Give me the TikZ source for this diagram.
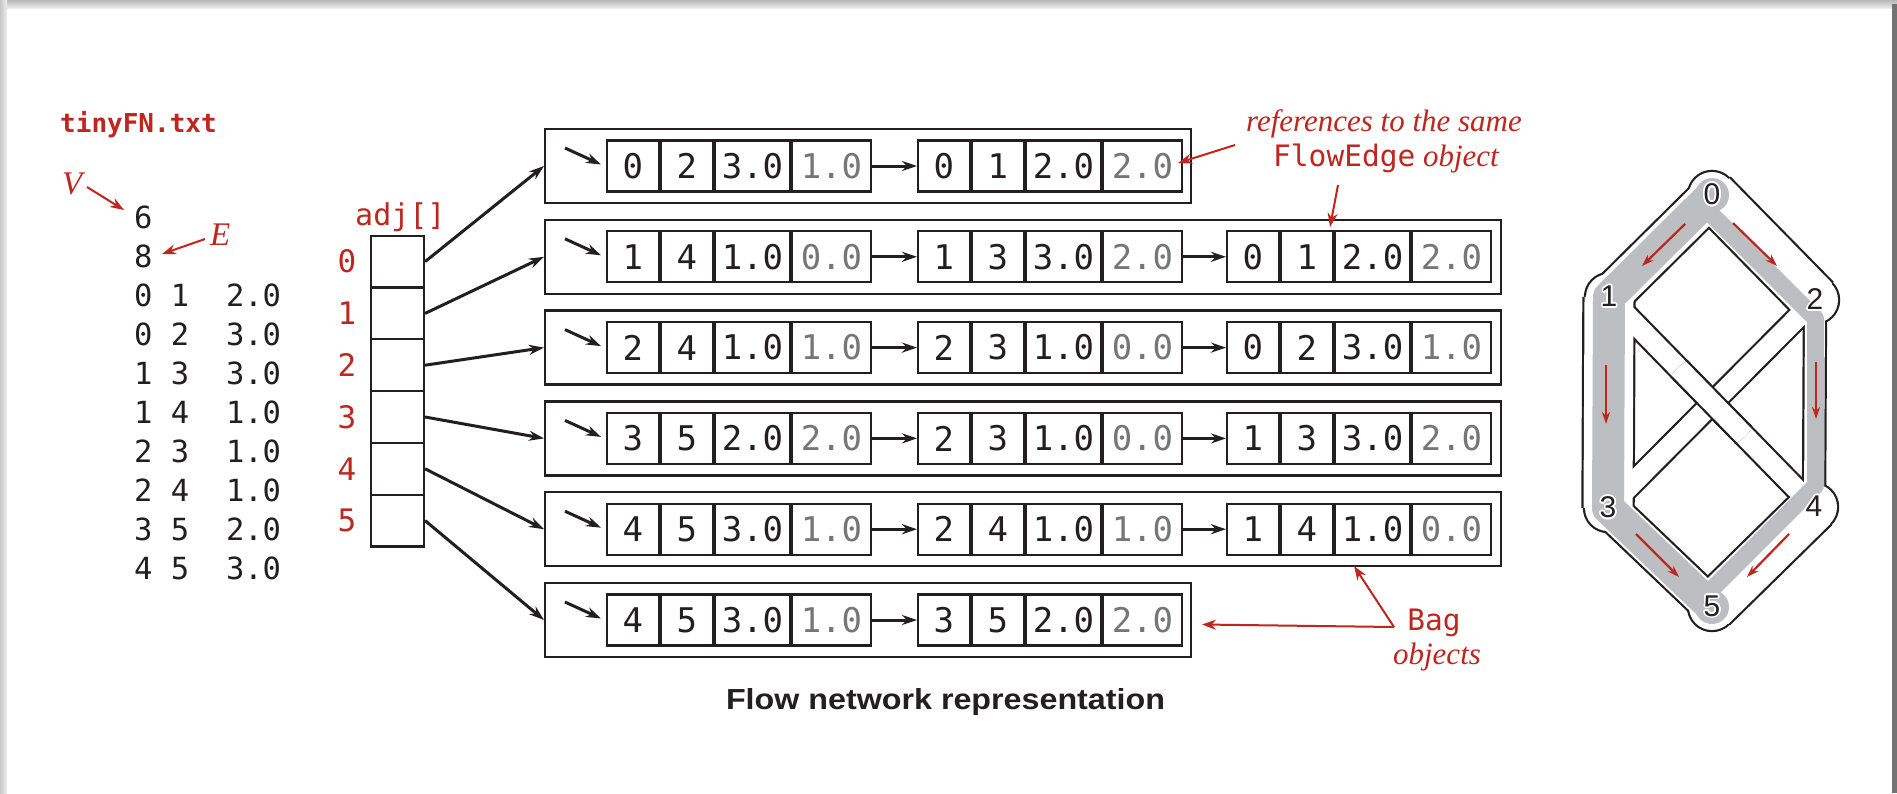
\documentclass[tikz,border=0pt]{standalone}
\usepackage{fontspec}
\usepackage{graphicx}
\setmainfont{Liberation Serif}
\setsansfont{Liberation Sans}
\setmonofont{DejaVu Sans Mono}
\usepackage[copies]{contour}
\contourlength{1.6pt}
\contournumber{16}
\usetikzlibrary{arrows.meta}
\definecolor{rd}{RGB}{190,38,30}
\definecolor{ink}{RGB}{35,31,32}
\definecolor{gtxt}{RGB}{118,118,120}
\definecolor{flowgray}{RGB}{189,190,194}
\newcommand{\fsz}[1]{\fontsize{#1}{#1}\selectfont}
\newcommand{\fedge}[7]{%
  \node[cwa] (#1a) at (#2,#3) {#4};
  \node[cwb] (#1b) at (#1a.east) {#5};
  \node[cwc] (#1c) at (#1b.east) {#6};
  \node[cwd] (#1d) at (#1c.east) {#7};
}
\tikzset{
  cellbase/.style={draw=ink, line width=2.2, minimum height=51, inner sep=0, anchor=west,
    font=\ttfamily\fsz{34}, text=ink},
  cwa/.style={cellbase, minimum width=51.5},
  cwb/.style={cellbase, minimum width=52},
  cwc/.style={cellbase, minimum width=75},
  cwd/.style={cellbase, minimum width=78.5, text=gtxt},
  bagbox/.style={draw=ink, line width=2.4, minimum height=74, inner sep=0, anchor=west},
  acell/.style={draw=ink, line width=2.2, minimum width=53, minimum height=51.8, inner sep=0},
  ptr/.style={draw=ink, line width=3, -{Stealth[length=15pt,width=10pt]}},
  rarr/.style={draw=rd, line width=2, -{Stealth[length=14pt,width=10pt]}},
  garr/.style={draw=rd, line width=2.2, -{Stealth[length=12pt,width=8pt]}},
  lst/.style={font=\ttfamily\fsz{30.5}, text=ink, anchor=base west, inner sep=0},
  redmono/.style={font=\ttfamily\fsz{30}, text=rd, inner sep=0},
  itred/.style={font=\itshape\fsz{31}, text=rd, inner sep=0},
  glab/.style={font=\sffamily\fsz{30}, text=ink, inner sep=0},
}
\begin{document}
\begin{tikzpicture}[x=1pt,y=-1pt]
\useasboundingbox (0,0) rectangle (1897,793);
% page and shadow
\fill[white] (0,0) rectangle (1897,793);
\shade[top color=black!28, bottom color=black!8] (0,0) rectangle (1897,8);
\shade[left color=black!22, right color=black!6] (0,0) rectangle (7,793);
\fill[black!55] (1892,4) rectangle (1897,793);

% ---------- tinyFN.txt ----------
\node[font=\ttfamily\bfseries\fsz{26}, text=rd, anchor=base west, inner sep=0] (file) at (60,132) {tinyFN.txt};
\node[font=\itshape\fsz{33}, text=rd, anchor=base west, inner sep=0] (V) at (62,194) {V};
\node[font=\itshape\fsz{33}, text=rd, anchor=base west, inner sep=0] (E) at (210,245) {E};
\foreach \t [count=\i from 0] in {6,8,0 1~~2.0,0 2~~3.0,1 3~~3.0,1 4~~1.0,2 3~~1.0,2 4~~1.0,3 5~~2.0,4 5~~3.0}
  \node[lst] (l\i) at (134,{228.3+39*\i}) {\t};
\coordinate (vs) at (87,187);
\coordinate (vt) at (124,210);
\coordinate (es) at (205,239);
\coordinate (et) at (162,254);
\draw[rarr] (vs) -- (vt);
\draw[rarr] (es) -- (et);

% ---------- adj[] ----------
\node[redmono, anchor=base west] (adj) at (355,225) {adj[]};
\foreach \i in {0,...,5} {
  \node[acell] (a\i) at (397.5,{261.6+51.8*\i}) {};
  \node[redmono, font=\ttfamily\fsz{31}] (ix\i) at (347,{261.6+51.8*\i}) {\i};
}

% ---------- bags ----------
\node[bagbox, minimum width=646] (bag0) at (544,166) {};
\node[bagbox, minimum width=956] (bag1) at (544,256.8) {};
\node[bagbox, minimum width=956] (bag2) at (544,347.6) {};
\node[bagbox, minimum width=956] (bag3) at (544,438.4) {};
\node[bagbox, minimum width=956] (bag4) at (544,529.2) {};
\node[bagbox, minimum width=646] (bag5) at (544,620) {};

\fedge{e01}{606}{166}{0}{2}{3.0}{1.0}
\fedge{e02}{917}{166}{0}{1}{2.0}{2.0}

\fedge{e11}{606}{256.8}{1}{4}{1.0}{0.0}
\fedge{e12}{917}{256.8}{1}{3}{3.0}{2.0}
\fedge{e13}{1226}{256.8}{0}{1}{2.0}{2.0}

\fedge{e21}{606}{347.6}{2}{4}{1.0}{1.0}
\fedge{e22}{917}{347.6}{2}{3}{1.0}{0.0}
\fedge{e23}{1226}{347.6}{0}{2}{3.0}{1.0}

\fedge{e31}{606}{438.4}{3}{5}{2.0}{2.0}
\fedge{e32}{917}{438.4}{2}{3}{1.0}{0.0}
\fedge{e33}{1226}{438.4}{1}{3}{3.0}{2.0}

\fedge{e41}{606}{529.2}{4}{5}{3.0}{1.0}
\fedge{e42}{917}{529.2}{2}{4}{1.0}{1.0}
\fedge{e43}{1226}{529.2}{1}{4}{1.0}{0.0}

\fedge{e51}{606}{620}{4}{5}{3.0}{1.0}
\fedge{e52}{917}{620}{3}{5}{2.0}{2.0}

% links inside bags
\foreach \b in {0,...,5}
  \draw[ptr] ([shift={(21,-18)}]bag\b.west) -- ([shift={(-5,-1.5)}]e\b1a.west);
\foreach \b in {0,1,2,3,4,5}
  \draw[ptr] (e\b1d.east) -- (e\b2a.west);
\foreach \b in {1,2,3,4}
  \draw[ptr] (e\b2d.east) -- (e\b3a.west);

% adj arrows
\foreach \i in {0,...,5}
  \draw[ptr] (a\i.east) -- (bag\i.west);

% ---------- annotations ----------
\node[itred, anchor=base] (ref1) at (1384,131.7) {references to the same};
\node[itred, anchor=base] (ref2) at (1386,166.7) {{\upshape\ttfamily\fsz{29.5}FlowEdge} object};
\coordinate (r1s) at (1235,145);
\coordinate (r1t) at (1178,163);
\coordinate (r2s) at (1338,185);
\coordinate (r2t) at (1330,227);
\draw[rarr] (r1s) -- (r1t);
\draw[rarr] (r2s) -- (r2t);

\node[redmono, font=\ttfamily\fsz{29.5}, anchor=base] (bagw) at (1434,630) {Bag};
\node[itred, anchor=base] (objw) at (1437,664) {objects};
\coordinate (bs) at (1394,627);
\coordinate (bt1) at (1354,566);
\coordinate (bt2) at (1202,624.5);
\draw[rarr] (bs) -- (bt1);
\draw[rarr] (bs) -- (bt2);

\node[font=\sffamily\bfseries\fsz{29}, text=ink, anchor=base, inner sep=0] (title) at (945.5,709)
  {\resizebox{439pt}{\height}{Flow network representation}};

% ---------- flow network drawing ----------
\coordinate (G0) at (1712,195);
\coordinate (G1) at (1609,297);
\coordinate (G2) at (1815,300);
\coordinate (G3) at (1608,508);
\coordinate (G4) at (1814,507);
\coordinate (G5) at (1712,607);
\foreach \a/\b/\w in {0/1/40,0/2/48,1/3/49,2/4/20,3/5/36,4/5/47,1/4/20,2/3/20}
  \draw[ink, line width=\w+4.4] (G\a) -- (G\b);
\foreach \i in {0,...,5}
  \fill[ink] (G\i) circle[radius=25.2];
\foreach \a/\b/\w in {0/1/40,0/2/48,1/3/49,2/4/20,3/5/36,4/5/47,1/4/20,2/3/20}
  \draw[white, line width=\w] (G\a) -- (G\b);
\foreach \i in {0,...,5}
  \fill[white] (G\i) circle[radius=23];
\begin{scope}
  \clip (1711.5,402) circle[radius=48];
  \draw[ink, line width=24.4] (G1) -- (G4);
  \draw[white, line width=20] (G1) -- (G4);
\end{scope}
% flow
\draw[flowgray, line width=32, line join=round] (G0) -- (G1) -- (G3) -- (G5);
\fill[flowgray] (G0) circle[radius=17];
\fill[flowgray] (G5) circle[radius=17];
\draw[flowgray, line width=17, line join=round] (1712,215) -- (1815.5,318.5) -- (1815.5,485.5) -- (1712,589);
% flow arrows
\draw[garr] (1685,224) -- (1642,266);
\draw[garr] (1733,223) -- (1777,266);
\draw[garr] (1606,365) -- (1606,424);
\draw[garr] (1816,362) -- (1816,419);
\draw[garr] (1636,534) -- (1679,577);
\draw[garr] (1789,534) -- (1747,577);
% labels
\foreach \i in {0,...,5}
  \node[glab] (L\i) at (G\i) {\contour{white}{\i}};
\end{tikzpicture}
\end{document}
